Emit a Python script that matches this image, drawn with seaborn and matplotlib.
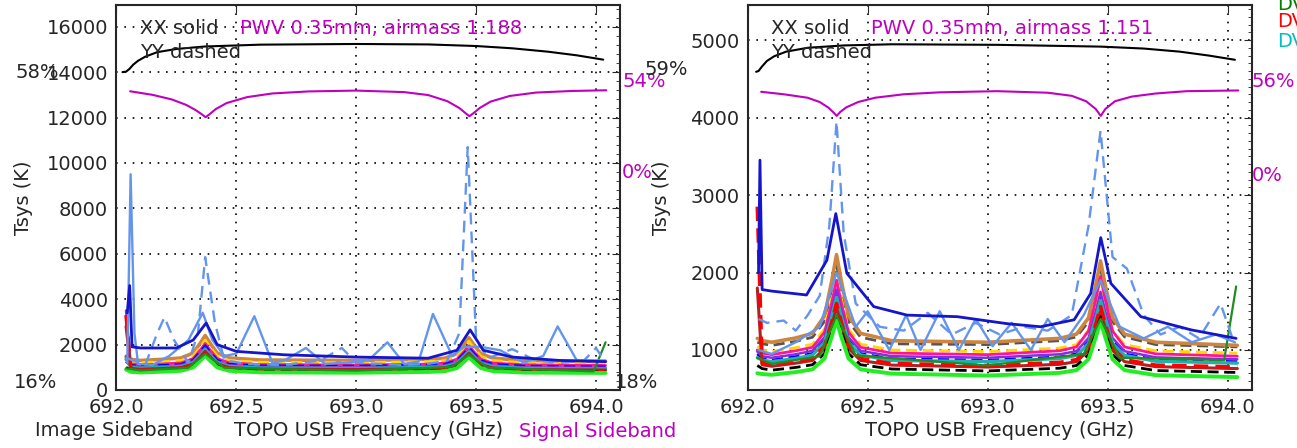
import matplotlib
matplotlib.use("Agg")
import matplotlib.pyplot as plt
import seaborn as sns
from matplotlib.ticker import AutoMinorLocator, FormatStrFormatter, MultipleLocator

# shared frequency grid (GHz) for the bundle of per-antenna Tsys spectra
GRID = [692.04, 692.06, 692.10, 692.20, 692.27, 692.32, 692.35, 692.37, 692.39, 692.42, 692.47, 692.60,
        693.00, 693.30, 693.37, 693.42, 693.45, 693.47, 693.49, 693.52, 693.57, 693.70, 694.04]

# ---- left panel (airmass 1.188), Tsys in K on GRID
L_BROWN = [1450, 1350, 1300, 1355, 1410, 1630, 2070, 2400, 2070, 1630, 1410, 1320,
           1300, 1350, 1400, 1600, 2000, 2300, 2000, 1600, 1400, 1300, 1250]
L_YELLOW = [1350, 1250, 1200, 1250, 1300, 1500, 1900, 2200, 1900, 1500, 1300, 1220,
            1200, 1250, 1295, 1485, 1865, 2150, 1865, 1485, 1295, 1200, 1150]
L_PINK = [1500, 1150, 1100, 1150, 1195, 1385, 1765, 2050, 1765, 1385, 1195, 1120,
          1100, 1140, 1185, 1355, 1695, 1950, 1695, 1355, 1185, 1110, 1080]
L_BLUE = [1250, 1080, 1040, 1085, 1130, 1315, 1675, 1950, 1675, 1315, 1130, 1060,
          1050, 1090, 1130, 1290, 1610, 1850, 1610, 1290, 1130, 1050, 1020]
L_PURPLE = [3500, 1050, 1000, 1040, 1085, 1255, 1595, 1850, 1595, 1255, 1085, 1015,
            1000, 1040, 1080, 1235, 1545, 1780, 1545, 1235, 1080, 1000, 980]
L_CYAN = [1350, 1000, 960, 1000, 1040, 1205, 1535, 1780, 1535, 1205, 1040, 965,
          950, 990, 1025, 1175, 1475, 1700, 1475, 1175, 1025, 950, 930]
L_DKRED = [2800, 950, 910, 950, 990, 1145, 1465, 1700, 1465, 1145, 990, 915,
           900, 935, 970, 1115, 1405, 1620, 1405, 1115, 970, 900, 880]
L_RED = [3300, 900, 860, 900, 935, 1090, 1400, 1630, 1400, 1090, 935, 860,
         840, 875, 910, 1055, 1345, 1560, 1345, 1055, 910, 850, 830]
L_BLACK = [1000, 860, 820, 860, 895, 1050, 1350, 1580, 1350, 1050, 895, 815,
           800, 835, 870, 1010, 1290, 1500, 1290, 1010, 870, 810, 790]
L_GREEN = [900, 800, 770, 810, 845, 995, 1295, 1520, 1295, 995, 845, 775,
           760, 795, 830, 965, 1245, 1450, 1245, 965, 830, 765, 750]

L_DG_F = [692.04, 692.10, 692.30, 692.37, 692.45, 693.00, 693.40, 693.47, 693.55, 693.99, 694.04]
L_DG_T = [950, 860, 980, 1600, 980, 850, 1020, 1550, 980, 820, 2100]

L_DB_F = [692.045, 692.055, 692.065, 692.10, 692.25, 692.32, 692.374, 692.42, 692.50,
          692.70, 693.00, 693.30, 693.42, 693.475, 693.53, 693.65, 693.85, 694.04]
L_DB_T = [3400, 4600, 1900, 1850, 1850, 2200, 2950, 2000, 1700, 1550, 1450, 1400, 1750, 2650, 1750, 1450, 1300, 1250]

L_LBS_F = [692.045, 692.059, 692.075, 692.09, 692.15, 692.22, 692.30, 692.36, 692.40, 692.45,
           692.50, 692.575, 692.65, 692.70, 692.79, 692.87, 692.95, 693.05, 693.13, 693.20,
           693.26, 693.32, 693.40, 693.45, 693.52, 693.60, 693.70, 693.78, 693.84, 693.92, 694.04]
L_LBS_T = [1200, 9500, 2500, 1150, 1100, 1500, 2200, 3400, 2200, 1500, 1600, 3250, 1200, 1300,
           1850, 1150, 1200, 1300, 2100, 1150, 1250, 3350, 1500, 1900, 1900, 1750, 1200, 1500,
           2800, 1300, 1300]

L_LBD_F = [692.045, 692.07, 692.12, 692.17, 692.20, 692.24, 692.30, 692.34, 692.37, 692.41,
           692.45, 692.55, 692.70, 692.85, 692.94, 693.00, 693.10, 693.20, 693.30, 693.38,
           693.43, 693.465, 693.50, 693.55, 693.65, 693.75, 693.85, 693.95, 694.00, 694.04]
L_LBD_T = [1400, 1300, 1100, 2500, 3200, 2200, 1200, 2500, 5850, 3000, 1300, 1150, 1100, 1300,
           1850, 1200, 1150, 1100, 1150, 1300, 2500, 10700, 2200, 1400, 1800, 1300, 1200, 1300,
           1850, 1200]

# atmospheric transmission traces, drawn in Tsys units (image: black, signal: magenta)
L_IMG_F = [692.025, 692.04, 692.055, 692.07, 692.09, 692.12, 692.17, 692.25, 692.37, 692.60,
           693.00, 693.30, 693.50, 693.65, 693.80, 693.92, 694.03]
L_IMG_T = [14000, 14020, 14150, 14330, 14500, 14680, 14880, 15020, 15130, 15210,
           15240, 15220, 15150, 15050, 14900, 14740, 14550]
L_SIG_F = [692.057, 692.15, 692.23, 692.29, 692.33, 692.355, 692.372, 692.39, 692.415, 692.46,
           692.545, 692.65, 692.80, 693.00, 693.20, 693.30, 693.38, 693.43, 693.455, 693.472,
           693.49, 693.515, 693.56, 693.64, 693.75, 693.90, 694.043]
L_SIG_T = [13157, 13000, 12800, 12560, 12330, 12150, 12015, 12160, 12380, 12640,
           12900, 13060, 13150, 13187, 13120, 12990, 12720, 12420, 12200, 12059,
           12200, 12420, 12700, 12950, 13100, 13170, 13201]

# ---- right panel (airmass 1.151)
R_BROWN = [1150, 1120, 1100, 1155, 1215, 1440, 1890, 2230, 1890, 1440, 1215, 1120,
           1100, 1150, 1205, 1415, 1835, 2150, 1835, 1415, 1205, 1100, 1060]
R_GRAY = [1100, 1080, 1060, 1110, 1165, 1370, 1790, 2100, 1790, 1370, 1165, 1080,
          1070, 1120, 1170, 1365, 1755, 2050, 1755, 1365, 1170, 1070, 1040]
R_YELLOW = [1050, 1000, 980, 1030, 1075, 1270, 1660, 1950, 1660, 1270, 1075, 1000,
            980, 1025, 1070, 1255, 1625, 1900, 1625, 1255, 1070, 990, 960]
R_PINK = [1000, 960, 940, 990, 1035, 1230, 1610, 1900, 1610, 1230, 1035, 960,
          940, 990, 1040, 1245, 1645, 1950, 1645, 1245, 1040, 950, 920]
R_PURPLE = [980, 920, 900, 945, 990, 1165, 1515, 1780, 1515, 1165, 990, 920,
            900, 945, 985, 1155, 1495, 1750, 1495, 1155, 985, 905, 880]
R_BLUE = [950, 890, 870, 915, 955, 1125, 1465, 1720, 1465, 1125, 955, 885,
          870, 910, 950, 1115, 1435, 1680, 1435, 1115, 950, 875, 850]
R_CYAN = [900, 870, 850, 890, 935, 1100, 1430, 1680, 1430, 1100, 935, 865,
          850, 890, 930, 1085, 1405, 1640, 1405, 1085, 930, 855, 830]
R_RED = [2850, 830, 810, 850, 890, 1050, 1360, 1600, 1360, 1050, 890, 825,
         800, 840, 875, 1030, 1330, 1560, 1330, 1030, 875, 805, 780]
R_DKRED = [1800, 810, 790, 830, 865, 1020, 1320, 1550, 1320, 1020, 865, 805,
           780, 815, 850, 995, 1285, 1500, 1285, 995, 850, 785, 760]
R_BLACK = [800, 760, 740, 775, 810, 955, 1245, 1460, 1245, 955, 810, 755,
           730, 765, 800, 940, 1220, 1430, 1220, 940, 800, 735, 710]
R_GREEN = [700, 690, 680, 715, 750, 890, 1170, 1380, 1170, 890, 750, 695,
           670, 705, 740, 880, 1160, 1370, 1160, 880, 740, 675, 650]

R_DG_F = [692.04, 692.10, 692.30, 692.37, 692.45, 693.00, 693.40, 693.47, 693.55, 693.985, 694.035]
R_DG_T = [900, 820, 920, 1450, 930, 800, 950, 1400, 900, 870, 1820]

R_DB_F = [692.045, 692.051, 692.06, 692.10, 692.245, 692.33, 692.367, 692.413, 692.525, 692.664,
          692.873, 693.08, 693.22, 693.36, 693.429, 693.471, 693.513, 693.638, 693.847, 694.035]
R_DB_T = [2000, 3450, 1780, 1760, 1710, 2160, 2760, 1990, 1560, 1450, 1430, 1340, 1300, 1390,
          1730, 2450, 1860, 1430, 1260, 1150]

R_LBS_F = [692.045, 692.10, 692.20, 692.30, 692.37, 692.45, 692.50, 692.59, 692.66, 692.72,
           692.80, 692.88, 692.95, 693.02, 693.10, 693.18, 693.25, 693.32, 693.40, 693.47,
           693.55, 693.65, 693.75, 693.85, 693.95, 694.03]
R_LBS_T = [1000, 950, 1100, 1300, 2000, 1300, 1500, 1000, 1450, 1000, 1500, 1000, 1400, 1050,
           1350, 1000, 1400, 1100, 1450, 1900, 1300, 1150, 1300, 1100, 1200, 1100]

R_LBD_F = [692.045, 692.08, 692.15, 692.20, 692.25, 692.30, 692.34, 692.37, 692.40, 692.45,
           692.55, 692.65, 692.75, 692.85, 692.95, 693.05, 693.15, 693.25, 693.35, 693.42,
           693.47, 693.52, 693.58, 693.65, 693.72, 693.80, 693.88, 693.97, 694.02]
R_LBD_T = [1400, 1350, 1380, 1250, 1450, 1700, 2600, 3950, 2500, 1600, 1300, 1250, 1480, 1200,
           1350, 1200, 1300, 1250, 1450, 2600, 3830, 2200, 2050, 1450, 1200, 1300, 1150, 1600, 1150]

R_IMG_F = [692.035, 692.045, 692.06, 692.08, 692.11, 692.16, 692.25, 692.40, 692.60, 693.04,
           693.47, 693.65, 693.80, 693.92, 694.03]
R_IMG_T = [4590, 4600, 4660, 4730, 4790, 4850, 4900, 4930, 4945, 4938,
           4915, 4890, 4850, 4800, 4745]
R_SIG_F = [692.056, 692.15, 692.25, 692.30, 692.335, 692.356, 692.371, 692.385, 692.41, 692.46,
           692.53, 692.65, 692.80, 693.04, 693.25, 693.35, 693.41, 693.45, 693.471, 693.49,
           693.53, 693.60, 693.70, 693.83, 694.044]
R_SIG_T = [4332, 4300, 4255, 4200, 4130, 4070, 4021, 4070, 4130, 4200,
           4255, 4300, 4325, 4340, 4320, 4280, 4210, 4110, 4021, 4110,
           4210, 4270, 4310, 4340, 4349]

# ---- styles (color, linestyle, linewidth)
LIGHT = "#6495ED"
DARK = "#1515CC"
BUNDLE_STYLE = [("#CD853F", "-", 2.6), ("#FFD700", (0, (4, 2)), 2.0), ("#FF1493", "-", 2.0),
                ("#0000FF", (0, (4, 2)), 2.0), ("#8A2BE2", "-", 1.8), ("#20B2AA", "-", 2.4),
                ("#B22222", "-", 2.2), ("#FF0000", (0, (4, 2)), 2.6), ("#000000", (0, (4, 2)), 2.0),
                ("#22EE22", "-", 2.8)]
DASH = (0, (5, 3))
FS = 14


def draw_panel(ax, bundle, dg, db, lbs, lbd, img, sig):
    for vals, (c, ls, lw) in zip(bundle, BUNDLE_STYLE):
        sns.lineplot(x=GRID, y=vals, ax=ax, color=c, linestyle=ls, linewidth=lw,
                     estimator=None, sort=False)
    sns.lineplot(x=dg[0], y=dg[1], ax=ax, color="#228B22", linewidth=1.6, estimator=None, sort=False)
    sns.lineplot(x=lbs[0], y=lbs[1], ax=ax, color=LIGHT, linewidth=1.7, estimator=None, sort=False)
    sns.lineplot(x=lbd[0], y=lbd[1], ax=ax, color=LIGHT, linestyle=DASH, linewidth=1.7,
                 estimator=None, sort=False)
    sns.lineplot(x=db[0], y=db[1], ax=ax, color=DARK, linewidth=2.0, estimator=None, sort=False)
    sns.lineplot(x=img[0], y=img[1], ax=ax, color="k", linewidth=1.5, estimator=None, sort=False)
    sns.lineplot(x=sig[0], y=sig[1], ax=ax, color="m", linewidth=1.5, estimator=None, sort=False)

    ax.set_xlim(692.0, 694.1)
    ax.xaxis.set_major_locator(MultipleLocator(0.5))
    ax.xaxis.set_major_formatter(FormatStrFormatter("%.1f"))
    ax.yaxis.set_major_formatter(FormatStrFormatter("%d"))
    ax.grid(True, color="k", linestyle=(0, (1, 4)), linewidth=1.2)
    ax.tick_params(which="both", direction="in", top=True, right=True, labelsize=FS)
    ax.tick_params(which="major", length=6, pad=6)
    ax.tick_params(which="minor", length=3)
    ax.set_xlabel("TOPO USB Frequency (GHz)", fontsize=FS, labelpad=3)
    for s in ax.spines.values():
        s.set_linewidth(1.5)


sns.set_style("white")
fig = plt.figure(figsize=(12.97, 4.48), dpi=100)
ax1 = fig.add_axes([0.0898, 0.1295, 0.3882, 0.859])
ax2 = fig.add_axes([0.5765, 0.1295, 0.3886, 0.859])

left_bundle = [L_BROWN, L_YELLOW, L_PINK, L_BLUE, L_PURPLE, L_CYAN, L_DKRED, L_RED, L_BLACK, L_GREEN]
right_bundle = [R_BROWN, R_YELLOW, R_PINK, R_BLUE, R_PURPLE, R_CYAN, R_DKRED, R_RED, R_BLACK, R_GREEN]

sns.lineplot(x=GRID, y=R_GRAY, ax=ax2, color="#555555", linestyle=(0, (4, 2)), linewidth=2.0,
             estimator=None, sort=False)
draw_panel(ax1, left_bundle, (L_DG_F, L_DG_T), (L_DB_F, L_DB_T), (L_LBS_F, L_LBS_T),
           (L_LBD_F, L_LBD_T), (L_IMG_F, L_IMG_T), (L_SIG_F, L_SIG_T))
draw_panel(ax2, right_bundle, (R_DG_F, R_DG_T), (R_DB_F, R_DB_T), (R_LBS_F, R_LBS_T),
           (R_LBD_F, R_LBD_T), (R_IMG_F, R_IMG_T), (R_SIG_F, R_SIG_T))

ax1.set_ylim(0, 16950)
ax1.yaxis.set_major_locator(MultipleLocator(2000))
ax1.yaxis.set_minor_locator(AutoMinorLocator(5))
ax1.set_ylabel("Tsys (K)", fontsize=FS, labelpad=10)
ax2.set_ylim(484, 5450)
ax2.yaxis.set_major_locator(MultipleLocator(1000))
ax2.yaxis.set_minor_locator(AutoMinorLocator(10))
ax2.set_ylabel("Tsys (K)", fontsize=FS, labelpad=14)

for ax, airmass in [(ax1, "1.188"), (ax2, "1.151")]:
    ax.text(0.047, 0.94, "XX solid", transform=ax.transAxes, fontsize=FS, va="center")
    ax.text(0.047, 0.878, "YY dashed", transform=ax.transAxes, fontsize=FS, va="center")
    ax.text(0.245, 0.94, "PWV 0.35mm, airmass " + airmass, transform=ax.transAxes,
            fontsize=FS, va="center", color="m")

# transmission scale labels
fig.text(0.0116, 0.839, "58%", fontsize=FS, va="center")
fig.text(0.0108, 0.147, "16%", fontsize=FS, va="center")
fig.text(0.4796, 0.817, "54%", fontsize=FS, va="center", color="m")
fig.text(0.4796, 0.616, "0%", fontsize=FS, va="center", color="m")
fig.text(0.4973, 0.844, "59%", fontsize=FS, va="center")
fig.text(0.4742, 0.147, "18%", fontsize=FS, va="center")
fig.text(0.9653, 0.817, "56%", fontsize=FS, va="center", color="m")
fig.text(0.9653, 0.609, "0%", fontsize=FS, va="center", color="m")
fig.text(0.027, 0.040, "Image Sideband", fontsize=FS, va="center")
fig.text(0.400, 0.036, "Signal Sideband", fontsize=FS, va="center", color="m")

# antenna legend, cut off at the right edge
fig.text(0.9846, 0.991, "DV01", fontsize=FS, va="center", color="g")
fig.text(0.9846, 0.951, "DV02", fontsize=FS, va="center", color="r")
fig.text(0.9846, 0.908, "DV03", fontsize=FS, va="center", color="c")

fig.savefig("out.png", dpi=100)
